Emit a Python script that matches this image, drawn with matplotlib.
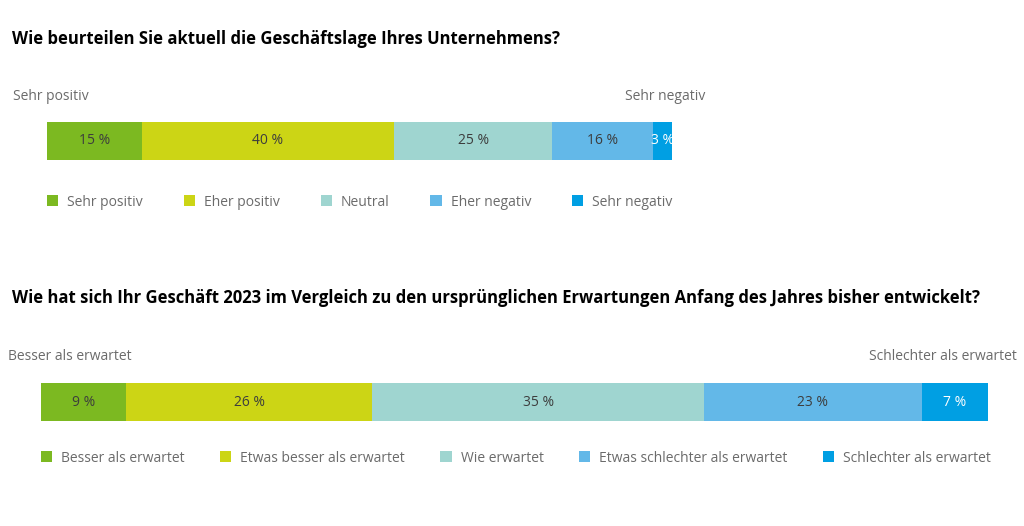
import matplotlib
matplotlib.use('Agg')
import matplotlib.pyplot as plt

plt.rcParams['font.family'] = ['Open Sans', 'DejaVu Sans']

W, H = 1024, 526

# question 1
q1_title = 'Wie beurteilen Sie aktuell die Geschäftslage Ihres Unternehmens?'
q1_labels = ['Sehr positiv', 'Eher positiv', 'Neutral', 'Eher negativ', 'Sehr negativ']
q1_values = [15, 40, 25, 16, 3]

# question 2
q2_title = ('Wie hat sich Ihr Geschäft 2023 im Vergleich zu den ursprünglichen '
            'Erwartungen Anfang des Jahres bisher entwickelt?')
q2_labels = ['Besser als erwartet', 'Etwas besser als erwartet', 'Wie erwartet',
             'Etwas schlechter als erwartet', 'Schlechter als erwartet']
q2_values = [9, 26, 35, 23, 7]

colors = ['#7CB921', '#CCD515', '#9FD5D0', '#63B8E8', '#009FE3']
value_colors = ['#3d3d3d', '#3d3d3d', '#3d3d3d', '#3d3d3d', 'white']
grey = '#6b6b6b'


def fx(px):
    return px / W


def fy(py):
    return 1 - py / H


def draw_block(fig, box, title, labels, values, title_y, side_y, side_x, legend_y, colspace):
    x0, y0, x1, y1 = box
    ax = fig.add_axes([fx(x0), fy(y1), fx(x1 - x0), (y1 - y0) / H])
    left = 0
    for lab, val, col, tcol in zip(labels, values, colors, value_colors):
        ax.barh(0, val, left=left, height=1, color=col, label=lab, linewidth=0)
        ax.text(left + val / 2, 0, f'{val} %', ha='center', va='center',
                fontsize=10, color=tcol)
        left += val
    ax.set_xlim(0, sum(values))
    ax.set_ylim(-0.5, 0.5)
    ax.axis('off')

    fig.text(fx(12), fy(title_y), title, fontsize=12, fontweight='bold',
             color='black', ha='left', va='center')
    fig.text(fx(side_x[0]), fy(side_y), labels[0], fontsize=10, color=grey,
             ha='left', va='center')
    fig.text(fx(side_x[1]), fy(side_y), labels[-1], fontsize=10, color=grey,
             ha='right', va='center')

    ax.legend(loc='center left', bbox_to_anchor=(fx(x0), fy(legend_y)),
              bbox_transform=fig.transFigure, ncol=len(labels), frameon=False,
              fontsize=10, labelcolor=grey, borderpad=0, borderaxespad=0,
              handlelength=0.8, handleheight=0.8, handletextpad=0.65,
              columnspacing=colspace)


fig = plt.figure(figsize=(W / 100, H / 100), dpi=100)

draw_block(fig, (47, 122, 672, 160), q1_title, q1_labels, q1_values,
           title_y=39, side_y=96, side_x=(13, 705), legend_y=202, colspace=2.95)
draw_block(fig, (41, 383, 988, 421), q2_title, q2_labels, q2_values,
           title_y=298, side_y=357, side_x=(8, 1017), legend_y=458, colspace=2.55)

fig.savefig('out.png', dpi=100)
